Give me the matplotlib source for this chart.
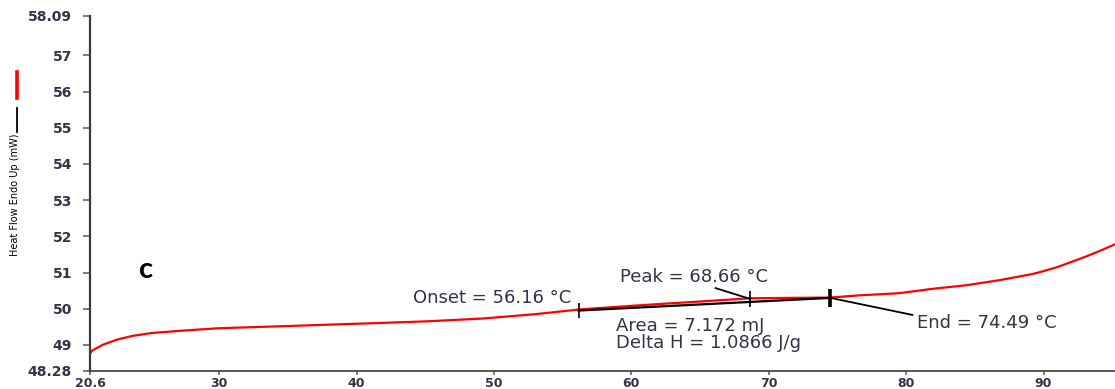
import matplotlib
matplotlib.use("Agg")
import matplotlib.pyplot as plt
from matplotlib.lines import Line2D

# DSC heating trace (temperature in °C, heat flow in mW)
temperature = [20.6, 20.75, 21.5, 22.6, 23.7, 25.1, 27.5, 29.9, 34.8, 39.5, 40.4,
               45.0, 49.2, 53.0, 56.0, 56.16, 60.0, 62.0, 65.0, 68.66, 71.5, 74.49,
               76.6, 79.5, 81.9, 84.4, 86.8, 89.2, 90.0, 91.0, 92.0, 93.0, 94.1, 95.2]
heat_flow = [48.76, 48.84, 49.0, 49.15, 49.25, 49.33, 49.40, 49.46, 49.52, 49.58, 49.59,
             49.65, 49.73, 49.85, 49.97, 49.98, 50.08, 50.13, 50.20, 50.29, 50.30, 50.31,
             50.37, 50.43, 50.55, 50.65, 50.79, 50.96, 51.04, 51.15, 51.29, 51.43, 51.60, 51.78]

# Transition analysis results
onset_temp, onset_hf = 56.16, 49.97
peak_temp, peak_hf = 68.66, 50.27
end_temp, end_hf = 74.49, 50.30
area_mj = 7.172
delta_h = 1.0866

x_ticks = [20.6, 30, 40, 50, 60, 70, 80, 90]
x_tick_labels = ["20.6", "30", "40", "50", "60", "70", "80", "90"]
y_ticks = [48.28, 49, 50, 51, 52, 53, 54, 55, 56, 57, 58.09]
y_tick_labels = ["48.28", "49", "50", "51", "52", "53", "54", "55", "56", "57", "58.09"]

text_color = "#33334a"
axis_color = "#3a3a3a"

fig = plt.figure(figsize=(11.15, 3.89), dpi=100)
ax = fig.add_axes([0.0807, 0.0463, 0.9193, 0.9126])

ax.plot(temperature, heat_flow, color="#ff0000", lw=1.6, zorder=2)

# Baseline between onset and end
base_x = [onset_temp, end_temp]
base_y = [onset_hf - 0.02, end_hf]
ax.plot(base_x, base_y, color="black", lw=1.6, zorder=3)

# Markers at onset, peak and end
ax.vlines(onset_temp, onset_hf - 0.22, onset_hf + 0.2, color="black", lw=1.2, zorder=4)
ax.vlines(peak_temp, peak_hf - 0.22, peak_hf + 0.22, color="black", lw=1.2, zorder=4)
ax.vlines(end_temp, end_hf - 0.24, end_hf + 0.24, color="black", lw=2.6, zorder=4)

# Leader lines
ax.plot([66.13, peak_temp], [50.57, peak_hf], color="black", lw=1.3, zorder=4)
ax.plot([end_temp, 80.45], [end_hf, 49.83], color="black", lw=1.3, zorder=4)

ann = dict(fontsize=13, color=text_color, family="DejaVu Sans")
ax.text(55.6, 50.30, f"Onset = {onset_temp:.2f} °C", ha="right", va="center", **ann)
ax.text(59.2, 50.88, f"Peak = {peak_temp:.2f} °C", ha="left", va="center", **ann)
ax.text(80.8, 49.60, f"End = {end_temp:.2f} °C", ha="left", va="center", **ann)
ax.text(58.9, 49.52, f"Area = {area_mj:.3f} mJ", ha="left", va="center", **ann)
ax.text(58.9, 49.04, f"Delta H = {delta_h:.4f} J/g", ha="left", va="center", **ann)

ax.text(24.2, 51.07, "c", fontsize=21, fontweight="bold", family="Lato",
        ha="left", va="center", color="black")

ax.set_xlim(20.6, 95.2)
ax.set_ylim(48.28, 58.09)
ax.set_xticks(x_ticks)
ax.set_xticklabels(x_tick_labels)
ax.set_yticks(y_ticks)
ax.set_yticklabels(y_tick_labels)

for s in ("top", "right"):
    ax.spines[s].set_visible(False)
ax.spines["left"].set_color(axis_color)
ax.spines["left"].set_linewidth(1.6)
ax.spines["bottom"].set_color(axis_color)
ax.spines["bottom"].set_linewidth(1.2)

ax.tick_params(axis="both", direction="out", width=1.2, color="#666666",
               labelcolor=text_color)
ax.tick_params(axis="x", length=3, pad=1.5, labelsize=9)
ax.tick_params(axis="y", length=5, pad=8, labelsize=10)
for lbl in ax.get_xticklabels() + ax.get_yticklabels():
    lbl.set_fontweight("bold")
    lbl.set_family("DejaVu Sans")

# Y-axis title with series key
fig.text(0.0135, 0.50, "Heat Flow Endo Up (mW)", rotation=90, ha="center", va="center",
         fontsize=7, color="black", family="DejaVu Sans")
fig.add_artist(Line2D([0.0152, 0.0152], [0.748, 0.815], color="#ff0000", lw=2.6))
fig.add_artist(Line2D([0.0152, 0.0152], [0.66, 0.723], color="black", lw=1.3))

fig.savefig("out.png", dpi=100)
